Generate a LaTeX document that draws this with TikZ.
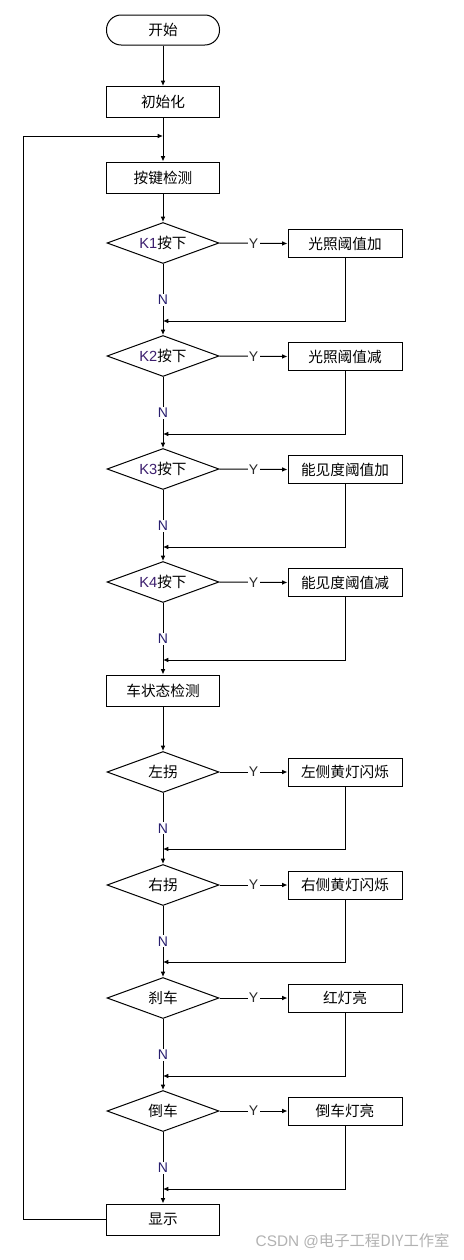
\documentclass[tikz,border=0pt]{standalone}
\usepackage{fontspec}
\setmainfont{Liberation Sans}
\newfontfamily\cjk{Noto Sans CJK SC}
\newfontfamily\lat{Liberation Sans}
\usetikzlibrary{shapes.geometric,arrows.meta}
\definecolor{klab}{RGB}{60,30,110}
\definecolor{nlab}{RGB}{40,30,110}
\definecolor{ylab}{RGB}{40,40,40}
\begin{document}
\begin{tikzpicture}[x=0.75pt,y=-0.75pt,
  line width=0.75pt,
  every node/.style={font=\cjk\fontsize{11pt}{13pt}\selectfont},
  proc/.style={draw,rectangle,minimum width=84.75pt,minimum height=23.25pt,inner sep=0pt},
  side/.style={draw,rectangle,minimum width=85.5pt,minimum height=21pt,inner sep=0pt},
  startbox/.style={draw,rectangle,rounded corners=11pt,minimum width=84.75pt,minimum height=22.5pt,inner sep=0pt},
  dec/.style={draw,diamond,minimum width=84pt,minimum height=30.75pt,inner sep=0pt,
    label={[font=\cjk\fontsize{11pt}{13pt}\selectfont]center:#1}},
  arr/.style={-{Latex[length=4pt,width=3.5pt]}},
  ylabel/.style={fill=white,inner sep=1pt,font=\lat\fontsize{10.5pt}{12pt}\selectfont,text=ylab},
  nlabel/.style={fill=white,inner sep=1pt,font=\lat\fontsize{10.5pt}{12pt}\selectfont,text=nlab}
]
\useasboundingbox (0,0) rectangle (464,1260);
\fill[white] (0,0) rectangle (464,1260);

\node[startbox] (start) at (163,30) {开始};
\node[proc] (init) at (163,102) {初始化};
\coordinate (loopj) at (163,136);
\node[proc] (key) at (163,177.5) {按键检测};

\node[dec={{\lat\color{klab}K1}按下}] (d1) at (163,243) {};
\node[side] (b1) at (345,243.5) {光照阈值加};
\coordinate (m1) at (163,321);

\node[dec={{\lat\color{klab}K2}按下}] (d2) at (163,356) {};
\node[side] (b2) at (345,356.5) {光照阈值减};
\coordinate (m2) at (163,434);

\node[dec={{\lat\color{klab}K3}按下}] (d3) at (163,469) {};
\node[side] (b3) at (345,469.5) {能见度阈值加};
\coordinate (m3) at (163,547);

\node[dec={{\lat\color{klab}K4}按下}] (d4) at (163,582) {};
\node[side] (b4) at (345,582.5) {能见度阈值减};
\coordinate (m4) at (163,660);

\node[proc] (car) at (163,690.5) {车状态检测};

\node[dec={左拐}] (d5) at (163,772) {};
\node[side] (b5) at (345,772) {左侧黄灯闪烁};
\coordinate (m5) at (163,849);

\node[dec={右拐}] (d6) at (163,885) {};
\node[side] (b6) at (345,885) {右侧黄灯闪烁};
\coordinate (m6) at (163,962);

\node[dec={刹车}] (d7) at (163,998) {};
\node[side] (b7) at (345,998) {红灯亮};
\coordinate (m7) at (163,1076);

\node[dec={倒车}] (d8) at (163,1111) {};
\node[side] (b8) at (345,1111) {倒车灯亮};
\coordinate (m8) at (163,1189);

\node[proc] (show) at (163,1219.5) {显示};
\coordinate (lb) at (23,1219.5);
\coordinate (lt) at (23,136);

% main spine
\draw[arr] (start) -- (init);
\draw (init) -- (loopj);
\draw[arr] (loopj) -- (key);
\draw[arr] (key) -- (d1);
\draw[arr] (car) -- (d5);

\foreach \i/\nxt in {1/d2,2/d3,3/d4,4/car,5/d6,6/d7,7/d8,8/show}{
  \draw[arr] (d\i.east) -- node[ylabel]{Y} (b\i.west);
  \draw (d\i.south) -- node[nlabel,pos=0.63]{N} (m\i);
  \draw[arr] (b\i.south) |- (m\i);
  \draw[arr] (m\i) -- (\nxt);
}

% loop back
\draw[arr] (show.west) -- (lb) -- (lt) -- (loopj);

% watermark
\node[anchor=east,text=black!30,font=\cjk\fontsize{11.5pt}{13pt}\selectfont,inner sep=0pt] (wm) at (450,1241) {{\lat CSDN @}电子工程DIY工作室};
\end{tikzpicture}
\end{document}
